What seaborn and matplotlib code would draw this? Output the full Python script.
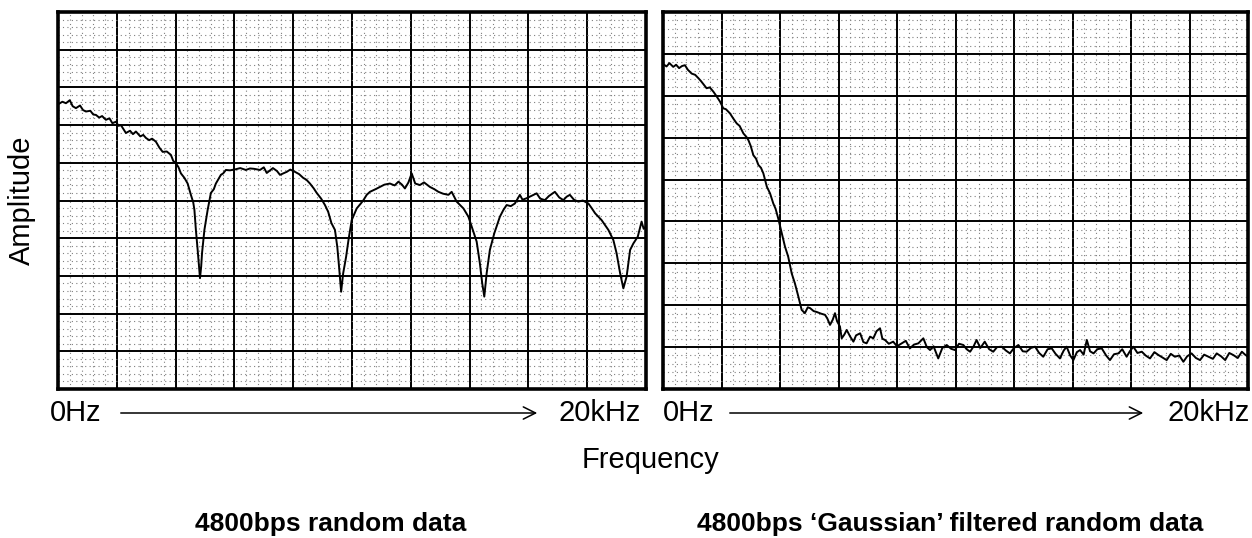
import numpy as np
import pandas as pd
import matplotlib
matplotlib.use("Agg")
import matplotlib.pyplot as plt
from matplotlib.ticker import AutoMinorLocator
import seaborn as sns

# Espectro de datos aleatorios 4800bps (frecuencia en kHz, nivel en divisiones)
left_khz = [0.00, 0.15, 0.27, 0.40, 0.50, 0.61, 0.75, 0.85, 0.95, 1.10, 1.20, 1.29, 1.40, 1.50,
            1.63, 1.75, 1.85, 1.97, 2.06, 2.14, 2.31, 2.45, 2.55, 2.65, 2.80, 2.90, 2.99, 3.10,
            3.20, 3.33, 3.45, 3.56, 3.70, 3.84, 3.92, 4.01, 4.10, 4.18, 4.30, 4.41, 4.52, 4.60,
            4.64, 4.69, 4.75, 4.80, 4.83, 4.87, 4.90, 4.98, 5.09, 5.20, 5.30, 5.37, 5.54, 5.62,
            5.71, 5.85, 6.05, 6.20, 6.39, 6.53, 6.67, 6.87, 7.00, 7.10, 7.31, 7.45, 7.55, 7.78,
            7.90, 8.06, 8.20, 8.34, 8.45, 8.57, 8.70, 8.80, 8.95, 9.08, 9.19, 9.30, 9.42, 9.50,
            9.56, 9.63, 9.70, 9.80, 9.88, 9.99, 10.16, 10.30, 10.39, 10.50, 10.61, 10.80, 10.95,
            11.10, 11.29, 11.45, 11.58, 11.70, 11.80, 11.92, 12.03, 12.15, 12.31, 12.45, 12.65,
            12.80, 12.94, 13.10, 13.28, 13.39, 13.56, 13.79, 13.96, 14.13, 14.24, 14.35, 14.43,
            14.50, 14.58, 14.69, 14.84, 15.03, 15.15, 15.26, 15.40, 15.54, 15.71, 15.80, 15.94,
            16.10, 16.28, 16.40, 16.56, 16.70, 16.90, 17.05, 17.19, 17.30, 17.41, 17.55, 17.70,
            17.85, 18.04, 18.15, 18.27, 18.49, 18.72, 18.89, 19.00, 19.12, 19.23, 19.34, 19.46,
            19.57, 19.72, 19.85, 19.92, 20.00]
left_level = [7.55, 7.62, 7.58, 7.66, 7.50, 7.45, 7.52, 7.40, 7.36, 7.38, 7.28, 7.27, 7.20, 7.24,
              7.14, 7.18, 7.05, 7.09, 6.98, 7.00, 6.79, 6.85, 6.76, 6.83, 6.70, 6.74, 6.66, 6.60,
              6.64, 6.56, 6.40, 6.29, 6.30, 6.21, 6.05, 5.99, 5.88, 5.72, 5.60, 5.45, 5.15, 4.95,
              4.75, 4.22, 3.69, 3.20, 2.94, 3.25, 3.61, 4.22, 4.75, 5.20, 5.30, 5.45, 5.68, 5.72,
              5.81, 5.80, 5.83, 5.86, 5.81, 5.85, 5.84, 5.81, 5.88, 5.73, 5.86, 5.78, 5.68, 5.76,
              5.82, 5.76, 5.70, 5.60, 5.55, 5.45, 5.32, 5.20, 5.05, 4.88, 4.70, 4.40, 4.22, 3.77,
              3.24, 2.58, 3.07, 3.51, 3.95, 4.48, 4.79, 4.92, 5.01, 5.15, 5.23, 5.30, 5.36,
              5.42, 5.45, 5.40, 5.50, 5.42, 5.32, 5.48, 5.72, 5.45, 5.41, 5.48, 5.36,
              5.30, 5.23, 5.18, 5.15, 5.23, 4.97, 4.79, 4.57, 4.17, 3.91, 3.33, 2.80,
              2.45, 3.07, 3.69, 4.13, 4.57, 4.75, 4.88, 4.85, 4.92, 5.15, 5.02, 5.06,
              5.12, 5.19, 5.05, 5.01, 5.12, 5.23, 5.08, 5.01, 5.10, 5.15, 5.02, 4.97,
              5.00, 4.92, 4.80, 4.66, 4.48, 4.22, 3.95, 3.60, 3.07, 2.67, 2.98, 3.69,
              3.86, 4.04, 4.44, 4.25, 4.31]

# Espectro de datos aleatorios con filtro 'Gaussian'
right_khz = [0.00, 0.12, 0.22, 0.35, 0.45, 0.55, 0.65, 0.75, 0.85, 0.98, 1.10, 1.21, 1.30, 1.40,
             1.49, 1.60, 1.72, 1.82, 1.95, 2.06, 2.15, 2.29, 2.40, 2.52, 2.62, 2.75, 2.85, 2.92,
             3.00, 3.09, 3.18, 3.26, 3.35, 3.43, 3.55, 3.66, 3.77, 3.85, 3.94, 4.06, 4.17, 4.28,
             4.40, 4.51, 4.63, 4.74, 4.85, 4.95, 5.03, 5.15, 5.25, 5.40, 5.54, 5.62, 5.71, 5.80,
             5.88, 5.95, 6.05, 6.11, 6.20, 6.28, 6.40, 6.51, 6.60, 6.74, 6.85, 6.96, 7.08, 7.19,
             7.30, 7.42, 7.50, 7.59, 7.72, 7.87, 8.00, 8.16, 8.30, 8.44, 8.58, 8.73, 8.90, 9.02,
             9.13, 9.25, 9.41, 9.55, 9.70, 9.85, 9.98, 10.12, 10.27, 10.38, 10.50, 10.62, 10.72,
             10.85, 11.00, 11.15, 11.29, 11.42, 11.58, 11.72, 11.86, 12.00, 12.15, 12.30, 12.43,
             12.58, 12.72, 12.86, 13.00, 13.15, 13.29, 13.42, 13.57, 13.70, 13.80, 13.92, 14.03,
             14.15, 14.26, 14.38, 14.49, 14.60, 14.72, 14.85, 15.00, 15.15, 15.28, 15.42, 15.57,
             15.70, 15.85, 15.96, 16.08, 16.22, 16.37, 16.50, 16.65, 16.80, 16.94, 17.08, 17.22,
             17.36, 17.50, 17.65, 17.79, 17.92, 18.07, 18.22, 18.36, 18.50, 18.65, 18.80, 18.93,
             19.08, 19.22, 19.36, 19.50, 19.65, 19.79, 19.90, 20.00]
right_level = [7.76, 7.70, 7.78, 7.69, 7.74, 7.66, 7.71, 7.73, 7.62, 7.53, 7.50, 7.42, 7.35, 7.26,
               7.18, 7.20, 7.10, 7.00, 6.86, 6.70, 6.68, 6.58, 6.46, 6.34, 6.28, 6.10, 6.02, 5.94,
               5.80, 5.58, 5.50, 5.35, 5.28, 5.15, 4.83, 4.67, 4.43, 4.30, 4.07, 3.72, 3.40, 3.16,
               2.76, 2.52, 2.20, 1.89, 1.81, 1.95, 1.93, 1.86, 1.84, 1.80, 1.77, 1.68, 1.53, 1.65,
               1.81, 1.62, 1.49, 1.21, 1.30, 1.41, 1.25, 1.13, 1.28, 1.33, 1.12, 1.09, 1.25, 1.21,
               1.38, 1.45, 1.20, 1.17, 1.08, 1.13, 1.02, 1.09, 1.15, 0.97, 1.06, 1.09, 1.21, 1.00,
               0.93, 1.02, 0.73, 0.98, 1.05, 0.96, 0.93, 1.08, 1.05, 0.95, 0.89, 1.02, 1.17,
               0.98, 1.13, 0.95, 0.89, 1.00, 1.01, 0.92, 0.85, 0.98, 1.05, 0.90, 0.89,
               0.98, 1.01, 0.86, 0.77, 0.95, 0.97, 0.84, 0.73, 0.92, 1.01, 0.80, 0.69,
               0.88, 0.93, 0.82, 1.17, 0.90, 0.85, 0.95, 0.97, 0.80, 0.69, 0.83, 0.85,
               0.95, 0.77, 0.90, 1.01, 0.86, 0.89, 0.80, 0.73, 0.88, 0.81, 0.75, 0.69,
               0.84, 0.77, 0.80, 0.65, 0.78, 0.85, 0.74, 0.69, 0.82, 0.77, 0.72, 0.85,
               0.78, 0.69, 0.86, 0.81, 0.74, 0.89, 0.82, 0.77]

titles = ["4800bps random data", "4800bps \u2018Gaussian\u2019 filtered random data"]
n_rows = [10, 9]  # divisiones verticales de cada pantalla

sns.set_style("white")
plt.rcParams["font.family"] = ["Liberation Sans", "DejaVu Sans"]
plt.rcParams["text.color"] = "black"

W, H = 1252, 538
fig = plt.figure(figsize=(W / 100, H / 100), dpi=100)


def px(x0, y0, w, h):
    # rectangulo en pixeles -> fraccion de figura
    return [x0 / W, 1 - (y0 + h) / H, w / W, h / H]


def pantalla(ax, khz, level, rows):
    df = pd.DataFrame({"khz": khz, "level": level})
    sns.lineplot(data=df, x="khz", y="level", ax=ax, color="black", lw=1.4,
                 estimator=None, sort=False)
    ax.set_xlim(0, 20)
    ax.set_ylim(0, rows)
    ax.set_xticks(np.arange(0, 21, 2))
    ax.set_yticks(np.arange(0, rows + 1, 1))
    ax.xaxis.set_minor_locator(AutoMinorLocator(5))
    ax.yaxis.set_minor_locator(AutoMinorLocator(5))
    ax.grid(which="major", color="black", lw=1.4)
    ax.grid(which="minor", color="#808080", lw=0.8, ls=(0, (1, 3)))
    ax.tick_params(which="both", length=0, labelbottom=False, labelleft=False)
    ax.set_xlabel("")
    ax.set_ylabel("")
    for s in ax.spines.values():
        s.set_visible(True)
        s.set_color("black")
        s.set_linewidth(2.6)


ax1 = fig.add_axes(px(58, 12, 588, 377))
ax2 = fig.add_axes(px(663, 12, 585, 377))
pantalla(ax1, left_khz, left_level, n_rows[0])
pantalla(ax2, right_khz, right_level, n_rows[1])

# Textos de los ejes
fig.text(22 / W, 1 - 200 / H, "Amplitude", rotation=90, ha="center", va="center",
         fontsize=21, color="black")
fig.text(650 / W, 1 - 460 / H, "Frequency", ha="center", va="center", fontsize=21, color="black")

y_eje = 1 - 413 / H
for x0, xa, xb, x1 in [(50, 118, 540, 641), (663, 727, 1146, 1250)]:
    fig.text(x0 / W, y_eje, "0Hz", ha="left", va="center", fontsize=21, color="black")
    fig.text(x1 / W, y_eje, "20kHz", ha="right", va="center", fontsize=21, color="black")
    fig.patches.append(matplotlib.patches.FancyArrowPatch(
        (xa / W, y_eje), (xb / W, y_eje), transform=fig.transFigure,
        arrowstyle="->", mutation_scale=22, lw=1.1, color="black"))

# Titulos inferiores
fig.text(331 / W, 1 - 524 / H, titles[0], ha="center", va="center", fontsize=19,
         fontweight="bold", color="black")
fig.text(950 / W, 1 - 524 / H, titles[1], ha="center", va="center", fontsize=19,
         fontweight="bold", color="black")

plt.savefig("out.png", dpi=100, facecolor="white")
